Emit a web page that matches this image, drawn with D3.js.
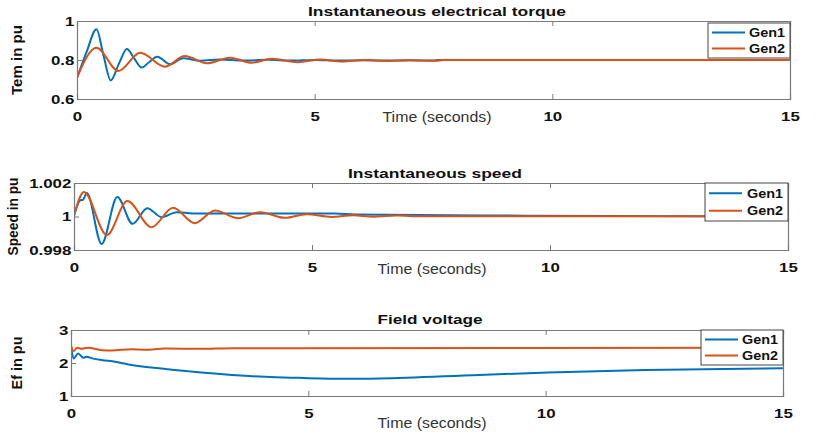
<!DOCTYPE html>
<html>
<head>
<meta charset="utf-8">
<script src="https://cdn.jsdelivr.net/npm/d3@7/dist/d3.min.js"></script>
<style>
  html, body { margin: 0; padding: 0; background: #fff; }
  svg { display: block; }
  text { font-family: "Liberation Sans", Arial, sans-serif; fill: #111; }
</style>
</head>
<body>
<svg id="chart" width="817" height="437"></svg>
<script>
// Time axis ticks shared by all three panels
const timeTicks = [0, 5, 10, 15];
const seriesNames = ["Gen1", "Gen2"];
const seriesColors = ["#0072BD", "#D95319"];

// Electrical torque (pu): [time s, value]
const torqueGen1 = [[0,0.707],[0.2,0.84],[0.41,0.958],[0.56,0.82],[0.71,0.695],[0.88,0.78],[1.05,0.856],[1.2,0.81],[1.36,0.761],[1.52,0.79],[1.69,0.817],[1.96,0.778],[2.23,0.809],[2.6,0.796],[3.0,0.803],[3.5,0.797],[4.0,0.801],[4.5,0.797],[5.0,0.8],[5.5,0.797],[6.0,0.799],[6.5,0.797],[7.0,0.799],[7.5,0.797],[7.6,0.8],[15,0.8]];
const torqueGen2 = [[0,0.71],[0.41,0.863],[0.87,0.744],[1.33,0.837],[1.85,0.766],[2.27,0.82],[2.73,0.783],[3.22,0.812],[3.68,0.786],[4.1,0.806],[4.65,0.789],[5.12,0.803],[5.57,0.792],[6.06,0.8],[6.55,0.795],[7.0,0.799],[7.55,0.796],[7.7,0.8],[15,0.8]];
const torqueTicks = [0.6, 0.8, 1];

// Rotor speed (pu)
const speedGen1 = [[0,1.00003],[0.13,1.00096],[0.19,1.001],[0.27,1.0014],[0.58,0.99836],[0.91,1.00116],[1.23,0.99956],[1.54,1.0005],[1.84,0.99996],[2.16,1.00026],[2.5,1.00018],[5.5,1.00018],[5.9,1.00012],[9.5,1.00005],[15,1.0]];
const speedGen2 = [[0,1.00005],[0.21,1.00146],[0.69,0.99889],[1.12,1.00092],[1.63,0.99936],[2.08,1.00052],[2.54,0.9996],[2.96,1.00036],[3.45,0.9999],[3.91,1.00026],[4.43,0.99992],[4.89,1.00014],[5.41,0.99997],[5.86,1.00008],[6.28,0.99999],[6.78,1.00006],[7.3,1.00001],[15,1.00001]];
const speedTicks = [0.998, 1, 1.002];

// Field voltage (pu)
const fieldGen1 = [[0,2.53],[0.055,2.14],[0.15,2.29],[0.26,2.16],[0.33,2.19],[0.45,2.14],[0.64,2.09],[0.93,2.04],[1.28,1.94],[1.99,1.82],[2.68,1.72],[3.39,1.64],[4.09,1.58],[4.79,1.55],[5.8,1.52],[6.5,1.53],[8.6,1.64],[10.05,1.71],[12.1,1.79],[15,1.84]];
const fieldGen2 = [[0,2.53],[0.055,2.36],[0.13,2.46],[0.22,2.43],[0.36,2.46],[0.65,2.39],[0.86,2.38],[1.28,2.42],[1.56,2.40],[1.98,2.44],[2.72,2.43],[3.42,2.45],[4.8,2.45],[15,2.46]];
const fieldTicks = [1, 2, 3];

const panels = [
  { title: "Instantaneous electrical torque", ylabel: "Tem in pu", series: [torqueGen1, torqueGen2],
    yDomain: [0.6, 1], yTicks: torqueTicks, fmt: d => d3.format("")(d),
    box: { left: 77, right: 790, top: 21, bottom: 99 },
    titleX: 437, titleY: 16, titleW: 258, timeX: 437, timeY: 122, ylabelX: 22, ylabelW: 70,
    legend: { x: 708, y: 23, w: 82, h: 35 } },
  { title: "Instantaneous speed", ylabel: "Speed in pu", series: [speedGen1, speedGen2],
    yDomain: [0.998, 1.002], yTicks: speedTicks, fmt: d => d3.format("")(+d.toFixed(3)),
    box: { left: 74, right: 788, top: 183, bottom: 250 },
    titleX: 435, titleY: 178, titleW: 174, timeX: 432, timeY: 274, ylabelX: 18, ylabelW: 78,
    legend: { x: 705, y: 183, w: 83, h: 38 } },
  { title: "Field voltage", ylabel: "Ef in pu", series: [fieldGen1, fieldGen2],
    yDomain: [1, 3], yTicks: fieldTicks, fmt: d => d3.format("")(d),
    box: { left: 71, right: 783, top: 330, bottom: 396 },
    titleX: 430, titleY: 324, titleW: 105, timeX: 432, timeY: 428, ylabelX: 22, ylabelW: 53,
    legend: { x: 701, y: 330, w: 82, h: 35 } }
];

const svg = d3.select("#chart");
svg.append("rect").attr("width", 817).attr("height", 437).attr("fill", "#fff");

panels.forEach(p => {
  const b = p.box;
  const x = d3.scaleLinear().domain([0, 15]).range([b.left, b.right]);
  const y = d3.scaleLinear().domain(p.yDomain).range([b.bottom, b.top]);
  const g = svg.append("g");

  // Clip lines to the axes box
  const clipId = "clip" + b.top;
  g.append("clipPath").attr("id", clipId).append("rect")
    .attr("x", b.left).attr("y", b.top).attr("width", b.right - b.left).attr("height", b.bottom - b.top);

  const line = d3.line().x(d => x(d[0])).y(d => y(d[1])).curve(d3.curveMonotoneX);
  const lines = g.append("g").attr("clip-path", `url(#${clipId})`);
  p.series.forEach((s, i) => {
    lines.append("path").datum(s).attr("d", line)
      .attr("fill", "none").attr("stroke", seriesColors[i]).attr("stroke-width", 2)
      .attr("stroke-linejoin", "round");
  });

  // Axes box with inward ticks on all sides
  const bottomAxis = d3.axisBottom(x).tickValues(timeTicks).tickSize(-5).tickFormat(d3.format("d")).tickPadding(13);
  const topAxis = d3.axisTop(x).tickValues(timeTicks).tickSize(-5).tickFormat("");
  const leftAxis = d3.axisLeft(y).tickValues(p.yTicks).tickSize(-5).tickFormat(p.fmt).tickPadding(2);
  const rightAxis = d3.axisRight(y).tickValues(p.yTicks).tickSize(-5).tickFormat("");

  const styleAxis = sel => {
    sel.select(".domain").attr("stroke", "#7a7a7a").attr("stroke-width", 1.2);
    sel.selectAll(".tick line").attr("stroke", "#7a7a7a");
    sel.selectAll(".tick text").attr("font-size", 13).attr("font-weight", "bold")
      .attr("font-family", "'Liberation Sans', Arial, sans-serif").attr("fill", "#111")
      .attr("transform", "scale(1.3,1)");
  };
  g.append("g").attr("transform", `translate(0,${b.bottom})`).call(bottomAxis).call(styleAxis);
  g.append("g").attr("transform", `translate(0,${b.top})`).call(topAxis).call(styleAxis);
  g.append("g").attr("transform", `translate(${b.left},0)`).call(leftAxis).call(styleAxis);
  g.append("g").attr("transform", `translate(${b.right},0)`).call(rightAxis).call(styleAxis);

  // Title, axis labels
  g.append("text").attr("x", p.titleX).attr("y", p.titleY).attr("text-anchor", "middle")
    .attr("font-size", 13).attr("font-weight", "bold")
    .attr("textLength", p.titleW).attr("lengthAdjust", "spacingAndGlyphs").text(p.title);
  g.append("text").attr("x", p.timeX).attr("y", p.timeY).attr("text-anchor", "middle")
    .attr("font-size", 14).attr("fill", "#333").style("fill", "#333")
    .attr("textLength", 109).attr("lengthAdjust", "spacingAndGlyphs").text("Time (seconds)");
  g.append("text").attr("transform", `translate(${p.ylabelX},${(b.top + b.bottom) / 2}) rotate(-90)`)
    .attr("text-anchor", "middle").attr("font-size", 14).attr("font-weight", "bold")
    .attr("textLength", p.ylabelW).attr("lengthAdjust", "spacingAndGlyphs").text(p.ylabel);

  // Legend
  const L = p.legend;
  const lg = g.append("g");
  lg.append("rect").attr("x", L.x).attr("y", L.y).attr("width", L.w).attr("height", L.h)
    .attr("fill", "#fff").attr("stroke", "#444").attr("stroke-width", 1);
  seriesNames.forEach((name, i) => {
    const ly = L.y + L.h * (i === 0 ? 0.27 : 0.73);
    lg.append("line").attr("x1", L.x + 4).attr("x2", L.x + 37).attr("y1", ly).attr("y2", ly)
      .attr("stroke", seriesColors[i]).attr("stroke-width", 2);
    lg.append("text").attr("x", L.x + L.w - 41).attr("y", ly + 4.5)
      .attr("font-size", 12).attr("font-weight", "bold")
      .attr("textLength", 36).attr("lengthAdjust", "spacingAndGlyphs").text(name);
  });
});
</script>
</body>
</html>
